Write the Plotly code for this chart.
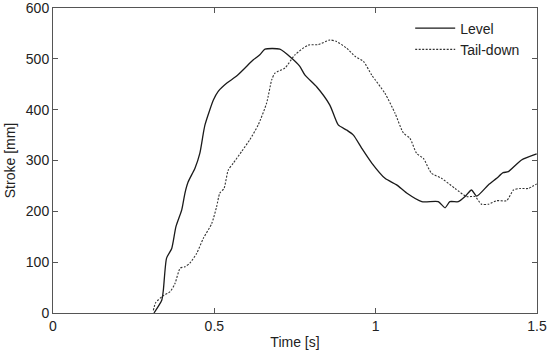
import plotly.graph_objects as go

level_t = [0.313, 0.337, 0.342, 0.352, 0.368, 0.381, 0.399, 0.409, 0.419, 0.440, 0.455, 0.466, 0.471,
           0.484, 0.497, 0.512, 0.538, 0.569, 0.595, 0.621, 0.641, 0.657, 0.703, 0.740, 0.765, 0.781,
           0.817, 0.858, 0.884, 0.910, 0.931, 0.957, 0.988, 1.029, 1.065, 1.096, 1.143, 1.194, 1.215,
           1.230, 1.256, 1.277, 1.297, 1.313, 1.349, 1.375, 1.395, 1.411, 1.452, 1.499]
level_s = [0, 25, 45, 108, 127, 170, 203, 236, 258, 285, 314, 354, 370,
           396, 419, 436, 452, 466, 482, 498, 508, 519, 519, 501, 485, 468,
           445, 409, 370, 360, 350, 324, 295, 265, 252, 236, 219, 219, 207,
           219, 219, 229, 242, 230, 252, 265, 276, 278, 301, 313]

tail_t = [0.311, 0.318, 0.339, 0.363, 0.378, 0.394, 0.409, 0.424, 0.445, 0.466, 0.492, 0.507, 0.517,
          0.530, 0.543, 0.559, 0.585, 0.610, 0.636, 0.662, 0.678, 0.688, 0.719, 0.750, 0.791, 0.822,
          0.858, 0.879, 0.910, 0.936, 0.962, 0.988, 1.029, 1.060, 1.086, 1.106, 1.127, 1.148, 1.173,
          1.204, 1.246, 1.282, 1.308, 1.328, 1.349, 1.375, 1.406, 1.427, 1.447, 1.473, 1.499]
tail_s = [5, 20, 33, 42, 58, 88, 91, 98, 117, 147, 176, 209, 236,
          245, 281, 295, 318, 341, 370, 413, 459, 472, 482, 508, 527, 528,
          537, 534, 521, 505, 495, 468, 432, 393, 354, 344, 314, 304, 275,
          265, 245, 229, 229, 214, 214, 221, 221, 242, 245, 245, 254]

x_ticks = [0, 0.5, 1, 1.5]
x_labels = ["0", "0.5", "1", "1.5"]
y_ticks = [0, 100, 200, 300, 400, 500, 600]

FONT = "Liberation Sans, Arial, sans-serif"

fig = go.Figure()
fig.add_trace(go.Scatter(x=level_t, y=level_s, mode="lines", name="Level",
                         line=dict(color="#1a1a1a", width=1.3, shape="spline", smoothing=0.6)))
fig.add_trace(go.Scatter(x=tail_t, y=tail_s, mode="lines", name="Tail-down",
                         line=dict(color="#333333", width=1.1, dash="2px,1.5px", shape="spline", smoothing=0.6)))

axis_common = dict(showline=True, linecolor="#555555", linewidth=1, mirror="ticks",
                   ticks="inside", ticklen=5, tickcolor="#555555", showgrid=False, zeroline=False,
                   automargin=False, ticklabeloverflow="allow",
                   tickfont=dict(family=FONT, size=14, color="#222222"))

fig.update_xaxes(range=[0, 1.5], tickvals=x_ticks, ticktext=x_labels,
                 title=dict(text="Time [s]", font=dict(family=FONT, size=14, color="#222222"), standoff=4),
                 **axis_common)
fig.update_yaxes(range=[0, 600], tickvals=y_ticks,
                 title=dict(text="Stroke [mm]", font=dict(family=FONT, size=14, color="#222222"), standoff=6),
                 **axis_common)

fig.update_layout(
    width=550, height=358,
    margin=dict(l=53, r=13, t=8, b=45, autoexpand=False),
    paper_bgcolor="white", plot_bgcolor="white",
    showlegend=True,
    legend=dict(x=0.738, y=0.985, xanchor="left", yanchor="top", bgcolor="rgba(0,0,0,0)",
                font=dict(family=FONT, size=14, color="#222222"),
                tracegroupgap=0, itemwidth=40),
)

fig.write_html("out.html", config={"displayModeBar": False},
               post_script="document.body.style.margin='0';")
